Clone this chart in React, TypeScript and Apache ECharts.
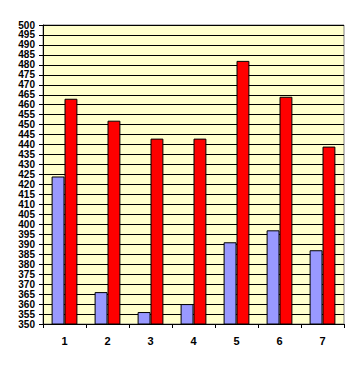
import React, { useEffect, useRef } from "react";
import * as echarts from "echarts";

const categories = ["1", "2", "3", "4", "5", "6", "7"];
const seriesA = [424, 366, 356, 360, 391, 397, 387];
const seriesB = [463, 452, 443, 443, 482, 464, 439];

export default function App() {
  const ref = useRef<HTMLDivElement>(null);
  useEffect(() => {
    document.body.style.margin = "0";
    const chart = echarts.init(ref.current!, null, { renderer: "svg" });
    const font = "Arial, 'Liberation Sans', sans-serif";
    chart.setOption({
      animation: false,
      grid: {
        left: 43,
        top: 25,
        right: 15,
        bottom: 42,
        show: true,
        backgroundColor: "#ffffcc",
        borderColor: "#808080",
        borderWidth: 1,
      },
      xAxis: {
        type: "category",
        data: categories,
        axisLine: { lineStyle: { color: "#000", width: 1 } },
        axisTick: { show: true, length: 4, alignWithLabel: false, lineStyle: { color: "#000" } },
        axisLabel: {
          color: "#000",
          fontFamily: font,
          fontWeight: "bold",
          fontSize: 11,
          margin: 11,
        },
      },
      yAxis: {
        type: "value",
        min: 350,
        max: 500,
        interval: 5,
        axisLine: { show: true, lineStyle: { color: "#000", width: 1 } },
        axisTick: { show: true, length: 4, lineStyle: { color: "#000" } },
        axisLabel: {
          color: "#000",
          fontFamily: font,
          fontWeight: "bold",
          fontSize: 10,
          margin: 8,
        },
        splitLine: { show: true, lineStyle: { color: "#000", width: 1 } },
      },
      series: [
        {
          type: "bar",
          data: seriesA,
          barGap: "0%",
          barCategoryGap: "40%",
          itemStyle: { color: "#9999ff", borderColor: "#000", borderWidth: 1 },
        },
        {
          type: "bar",
          data: seriesB,
          barGap: "0%",
          barCategoryGap: "40%",
          itemStyle: { color: "#ff0000", borderColor: "#000", borderWidth: 1 },
        },
      ],
    });
    return () => chart.dispose();
  }, []);
  return <div ref={ref} style={{ width: 359, height: 366 }} />;
}
